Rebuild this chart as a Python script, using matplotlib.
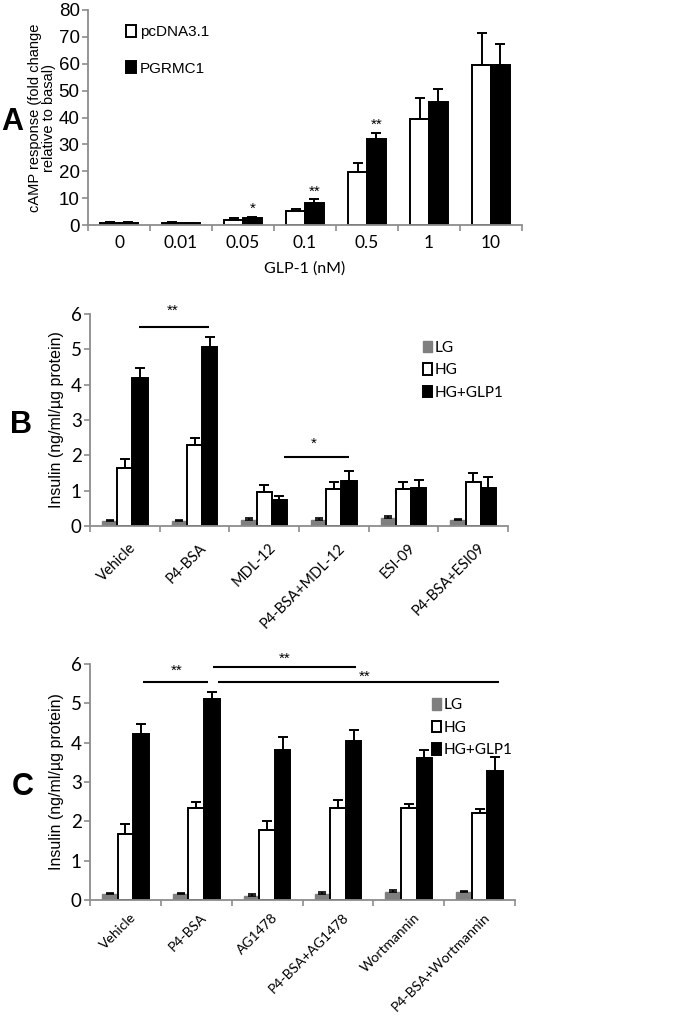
import matplotlib
matplotlib.use("Agg")
import matplotlib.pyplot as plt
from matplotlib import font_manager
import numpy as np

# ---------------- Data ----------------
a_cats = ["0", "0.01", "0.05", "0.1", "0.5", "1", "10"]
a_pc = [0.8, 0.8, 2.0, 5.3, 19.7, 39.5, 59.7]
a_pc_err = [0.3, 0.5, 0.5, 0.7, 3.3, 7.8, 11.7]
a_pg = [0.7, 0.6, 2.5, 8.3, 32.0, 45.8, 59.5]
a_pg_err = [0.3, 0.2, 0.5, 1.2, 2.2, 4.8, 7.9]
a_sig = ["", "", "*", "**", "**", "", ""]

b_cats = ["Vehicle", "P4-BSA", "MDL-12", "P4-BSA+MDL-12", "ESI-09", "P4-BSA+ESI09"]
b_lg = [0.13, 0.13, 0.18, 0.18, 0.23, 0.17]
b_lg_err = [0.05, 0.05, 0.05, 0.05, 0.05, 0.02]
b_hg = [1.65, 2.3, 0.95, 1.05, 1.05, 1.25]
b_hg_err = [0.25, 0.2, 0.2, 0.2, 0.2, 0.25]
b_glp = [4.2, 5.08, 0.73, 1.28, 1.08, 1.08]
b_glp_err = [0.27, 0.27, 0.12, 0.27, 0.22, 0.32]

c_cats = ["Vehicle", "P4-BSA", "AG1478", "P4-BSA+AG1478", "Wortmannin", "P4-BSA+Wortmannin"]
c_lg = [0.15, 0.15, 0.1, 0.15, 0.2, 0.2]
c_lg_err = [0.02, 0.02, 0.05, 0.05, 0.05, 0.02]
c_hg = [1.68, 2.33, 1.78, 2.33, 2.33, 2.2]
c_hg_err = [0.24, 0.17, 0.22, 0.22, 0.12, 0.12]
c_glp = [4.22, 5.1, 3.82, 4.05, 3.6, 3.28]
c_glp_err = [0.25, 0.18, 0.33, 0.28, 0.22, 0.35]

# ---------------- Fonts ----------------
def available(name):
    try:
        font_manager.findfont(font_manager.FontProperties(family=name), fallback_to_default=False)
        return True
    except Exception:
        return False

REG = "Liberation Sans"
CAL = "Lato" if available("Lato") else "Open Sans"

W, H = 680, 1019
fig = plt.figure(figsize=(W / 100, H / 100), dpi=100)

def ax_at(l, t, r, b):
    return fig.add_axes([l / W, 1 - b / H, (r - l) / W, (b - t) / H])

GRAY = "#8c8c8c"

def style(ax, n, fontsize, fam):
    for s in ["top", "right"]:
        ax.spines[s].set_visible(False)
    for s in ["left", "bottom"]:
        ax.spines[s].set_color(GRAY)
        ax.spines[s].set_linewidth(1.3)
    ax.set_xlim(-0.5, n - 0.5)
    ax.set_xticks(np.arange(n + 1) - 0.5)
    ax.set_xticklabels([])
    ax.tick_params(axis="x", length=4, width=1.2, color=GRAY, direction="out")
    ax.tick_params(axis="y", length=4, width=1.2, color=GRAY, direction="out",
                   labelsize=fontsize, pad=2)
    for t in ax.get_yticklabels():
        t.set_fontfamily(fam)

ekw = dict(ecolor="black", elinewidth=1.4, capsize=3.3, capthick=1.4)

# ---------------- Panel A ----------------
axA = ax_at(88, 10, 522, 225)
x = np.arange(len(a_cats))
bw = 0.3
axA.bar(x - bw / 2, a_pc, bw, color="white", edgecolor="black", linewidth=1.4, label="pcDNA3.1")
axA.bar(x + bw / 2, a_pg, bw, color="black", edgecolor="black", linewidth=1.4, label="PGRMC1")
axA.errorbar(x - bw / 2, a_pc, yerr=[np.zeros(len(x)), a_pc_err], fmt="none", **ekw)
axA.errorbar(x + bw / 2, a_pg, yerr=[np.zeros(len(x)), a_pg_err], fmt="none", **ekw)
axA.set_ylim(0, 80)
axA.set_yticks(range(0, 81, 10))
style(axA, len(a_cats), 13.5, REG)
for i, s in enumerate(a_sig):
    if s:
        axA.text(x[i] + bw / 2, a_pg[i] + a_pg_err[i] + 3.0, s, ha="center", va="center",
                 fontsize=11, fontfamily=REG)
for i, c in enumerate(a_cats):
    axA.text(x[i], -6.6, c, ha="center", va="center", fontsize=12.5, fontfamily=CAL)
axA.text((len(a_cats) - 1) / 2, -16.2, "GLP-1 (nM)", ha="center", va="center",
         fontsize=11.5, fontfamily=CAL, clip_on=False)
axA.set_ylabel("cAMP response (fold change\nrelative to basal)", fontsize=10.5,
               fontfamily=REG, labelpad=2, linespacing=1.0)
axA.legend(loc="upper left", bbox_to_anchor=(0.0876, 0.93), frameon=False,
           borderpad=0, borderaxespad=0,
           prop={"family": REG, "size": 11}, handlelength=0.65,
           handleheight=0.8, handletextpad=0.25, labelspacing=1.45)
fig.text(1 / W, 1 - 122 / H, "A", fontsize=22, fontweight="bold", fontfamily=REG,
         va="center", ha="left")

# ---------------- Panels B and C ----------------
def insulin_panel(box, cats, lg, lg_e, hg, hg_e, glp, glp_e, legend_anchor, lab_dy, lab_fs):
    ax = ax_at(*box)
    n = len(cats)
    x = np.arange(n)
    bw = 0.22
    ax.bar(x - bw, lg, bw, color="#7f7f7f", edgecolor="#7f7f7f", linewidth=1.0, label="LG")
    ax.bar(x, hg, bw, color="white", edgecolor="black", linewidth=1.4, label="HG")
    ax.bar(x + bw, glp, bw, color="black", edgecolor="black", linewidth=1.4, label="HG+GLP1")
    ax.errorbar(x - bw, lg, yerr=[np.zeros(n), lg_e], fmt="none", ecolor="black",
                elinewidth=1.2, capsize=3, capthick=1.2)
    ax.errorbar(x, hg, yerr=[np.zeros(n), hg_e], fmt="none", **ekw)
    ax.errorbar(x + bw, glp, yerr=[np.zeros(n), glp_e], fmt="none", **ekw)
    ax.set_ylim(0, 6)
    ax.set_yticks(range(0, 7))
    style(ax, n, 13.5, CAL)
    for i, c in enumerate(cats):
        ax.text(x[i] + 0.06, -lab_dy, c, ha="right", va="top", rotation=45,
                rotation_mode="anchor", fontsize=lab_fs, fontfamily=CAL)
    ax.set_ylabel("Insulin (ng/ml/µg protein)", fontsize=11.5, fontfamily=REG, labelpad=5)
    ax.legend(loc="upper left", bbox_to_anchor=legend_anchor, frameon=False,
              borderpad=0, borderaxespad=0,
              prop={"family": CAL, "size": 11}, handlelength=0.6,
              handleheight=0.8, handletextpad=0.15, labelspacing=0.55)
    return ax

def sig_line(ax, x0, x1, y, label, tx, ty):
    ax.plot([x0, x1], [y, y], color="black", lw=1.5, solid_capstyle="butt", clip_on=False)
    ax.text(tx, ty, label, ha="center", va="center", fontsize=11, fontfamily=REG, clip_on=False)

axB = insulin_panel((90, 314, 508, 526), b_cats, b_lg, b_lg_err, b_hg, b_hg_err,
                    b_glp, b_glp_err, (0.797, 0.875), 0.42, 10.5)
sig_line(axB, 0.2, 1.21, 5.63, "**", 0.68, 6.1)
sig_line(axB, 2.28, 3.22, 1.95, "*", 2.71, 2.32)
fig.text(10 / W, 1 - 425 / H, "B", fontsize=22, fontweight="bold", fontfamily=REG,
         va="center", ha="left")

axC = insulin_panel((90, 664, 515, 900), c_cats, c_lg, c_lg_err, c_hg, c_hg_err,
                    c_glp, c_glp_err, (0.805, 0.855), 0.28, 10.0)
sig_line(axC, 0.245, 1.16, 5.53, "**", 0.72, 5.83)
sig_line(axC, 1.24, 3.26, 5.93, "**", 2.25, 6.12)
sig_line(axC, 1.31, 5.28, 5.53, "**", 3.38, 5.68)
fig.text(12 / W, 1 - 787 / H, "C", fontsize=22, fontweight="bold", fontfamily=REG,
         va="center", ha="left")

fig.savefig("out.png", dpi=100)
